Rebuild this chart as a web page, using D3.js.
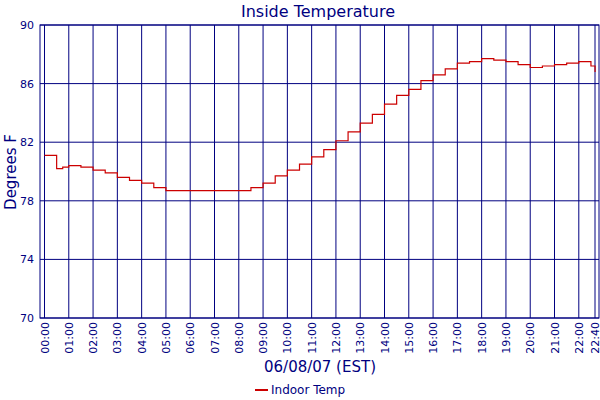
<!DOCTYPE html>
<html><head><meta charset="utf-8">
<script src="https://cdn.jsdelivr.net/npm/d3@7"></script>
<style>body{margin:0;background:#fff}text{font-family:"DejaVu Sans",Verdana,sans-serif;fill:#000080}</style>
</head><body><div id="chart"></div>
<script>
// hours since midnight, and temperature readings
var hours = [0, 0.33, 0.5, 0.75, 1, 1.5, 2, 2.5, 3, 3.5, 4, 4.5, 5, 6, 7, 8, 8.5, 9, 9.5, 10, 10.5, 11, 11.5, 12, 12.5, 13, 13.5, 14, 14.5, 15, 15.5, 16, 16.5, 17, 17.5, 18, 18.5, 19, 19.5, 20, 20.5, 21, 21.5, 22, 22.33, 22.5, 22.67];
var temps = [81.1, 81.1, 80.2, 80.3, 80.4, 80.3, 80.1, 79.9, 79.6, 79.4, 79.2, 78.9, 78.7, 78.7, 78.7, 78.7, 78.9, 79.2, 79.7, 80.1, 80.5, 81.0, 81.5, 82.1, 82.7, 83.3, 83.9, 84.6, 85.2, 85.6, 86.2, 86.6, 87.0, 87.4, 87.5, 87.7, 87.6, 87.5, 87.3, 87.1, 87.2, 87.3, 87.4, 87.5, 87.5, 87.2, 86.8];
var xTicks = [0,1,2,3,4,5,6,7,8,9,10,11,12,13,14,15,16,17,18,19,20,21,22,22.667];
var xLabels = ["00:00","01:00","02:00","03:00","04:00","05:00","06:00","07:00","08:00","09:00","10:00","11:00","12:00","13:00","14:00","15:00","16:00","17:00","18:00","19:00","20:00","21:00","22:00","22:40"];
var yTicks = [70, 74, 78, 82, 86, 90];

var navy = "#000080";
var svg = d3.select("#chart").append("svg").attr("width", 600).attr("height", 400);
var pLeft = 40, pRight = 599, pTop = 25, pBottom = 318;
var x = d3.scaleLinear().domain([0, 22.667]).range([44.5, 595]);
var y = d3.scaleLinear().domain([70, 90]).range([pBottom, pTop]);

// grid
svg.selectAll(".vg").data(xTicks).enter().append("line")
    .attr("x1", function (d) { return x(d); }).attr("x2", function (d) { return x(d); })
    .attr("y1", pTop).attr("y2", pBottom).attr("stroke", navy);
svg.selectAll(".hg").data(yTicks).enter().append("line")
    .attr("x1", pLeft).attr("x2", pRight)
    .attr("y1", function (d) { return y(d); }).attr("y2", function (d) { return y(d); })
    .attr("stroke", navy);
svg.append("rect").attr("x", pLeft).attr("y", pTop).attr("width", pRight - pLeft).attr("height", pBottom - pTop)
    .attr("fill", "none").attr("stroke", navy);

// tick labels
svg.selectAll(".yl").data(yTicks).enter().append("text")
    .attr("x", pLeft - 6).attr("y", function (d) { return y(d) + 4; })
    .attr("text-anchor", "end").attr("font-size", 11).text(function (d) { return d; });
svg.selectAll(".xl").data(xTicks).enter().append("text")
    .attr("transform", function (d) { return "translate(" + (x(d) + 4) + "," + (pBottom + 4) + ") rotate(-90)"; })
    .attr("text-anchor", "end").attr("font-size", 11).text(function (d, i) { return xLabels[i]; });

// line
var line = d3.line().x(function (d) { return x(d[0]); }).y(function (d) { return y(d[1]); }).curve(d3.curveStepAfter);
svg.append("path").datum(d3.zip(hours, temps)).attr("d", line)
    .attr("fill", "none").attr("stroke", "#cc0000").attr("stroke-width", 1.2);

// titles
svg.append("text").attr("x", 318).attr("y", 17).attr("text-anchor", "middle").attr("font-size", 16).text("Inside Temperature");
svg.append("text").attr("transform", "translate(16,172) rotate(-90)").attr("text-anchor", "middle").attr("font-size", 15).text("Degrees F");
svg.append("text").attr("x", 320).attr("y", 372).attr("text-anchor", "middle").attr("font-size", 15).text("06/08/07 (EST)");

// legend
svg.append("line").attr("x1", 255).attr("x2", 268).attr("y1", 390).attr("y2", 390).attr("stroke", "#cc0000").attr("stroke-width", 2);
svg.append("text").attr("x", 271).attr("y", 394).attr("font-size", 12).text("Indoor Temp");
</script></body></html>
